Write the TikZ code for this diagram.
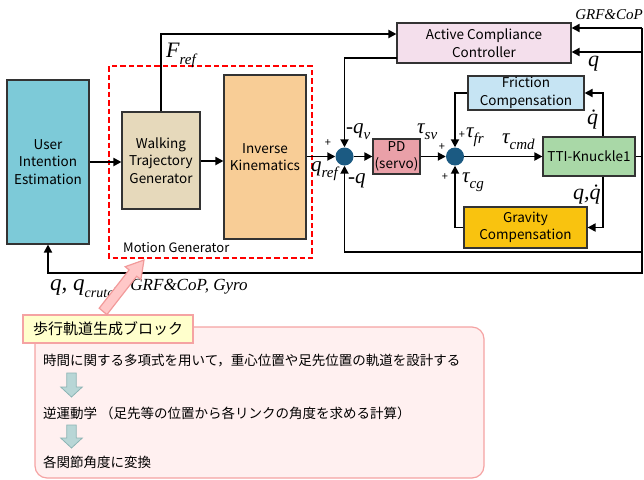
\documentclass[tikz,border=0pt]{standalone}
\usepackage{fontspec}
\newfontfamily\jp{Noto Sans CJK JP}
\newfontfamily\tms{Liberation Serif}
\usetikzlibrary{arrows.meta}

\definecolor{uiec}{HTML}{7DCAD8}
\definecolor{wtgc}{HTML}{E6D9BB}
\definecolor{ikc}{HTML}{F8CD96}
\definecolor{accc}{HTML}{F4DFEC}
\definecolor{fcc}{HTML}{C6E4F3}
\definecolor{ttic}{HTML}{A9D8A7}
\definecolor{gcc}{HTML}{F9C30F}
\definecolor{pdc}{HTML}{E9A0A8}
\definecolor{sumc}{HTML}{1B5A82}
\definecolor{noteFill}{HTML}{FFF0F0}
\definecolor{noteLine}{HTML}{F5A3A3}
\definecolor{tagFill}{HTML}{FFFFCC}
\definecolor{callFill}{HTML}{FFC8C8}
\definecolor{callLine}{HTML}{F29A9A}
\definecolor{stepFill}{HTML}{B8D6D6}
\definecolor{stepLine}{HTML}{8CB4B4}

% italic serif labels with lowered subscripts
\newcommand\mth[2][20]{{\fontsize{#1}{#1}\selectfont\tms\itshape #2}}
\newcommand\sbs[2][13]{\raisebox{-0.32em}{\fontsize{#1}{#1}\selectfont #2}}

\begin{document}
\begin{tikzpicture}[x=1pt,y=-1pt,
  blk/.style={draw=black!80, line width=1.1pt, align=center, inner sep=0pt,
    font=\jp\fontsize{13.5}{17.5}\selectfont},
  sumj/.style={circle, fill=sumc, minimum size=18pt, inner sep=0pt},
  wire/.style={line width=1.8pt},
  arr/.style={wire, -{Triangle[length=8pt,width=8pt]}},
  sgn/.style={font=\jp\fontsize{11}{11}\selectfont, inner sep=0pt},
  lab/.style={anchor=base west, inner sep=0pt},
  jtxt/.style={anchor=west, inner sep=0pt, font=\jp\fontsize{13.5}{13.5}\selectfont}]
\useasboundingbox (0,0) rectangle (644,479);

% ---- blocks ----
\node[blk, fill=uiec, minimum width=82pt, minimum height=164pt] (uie) at (48,162) {User\\Intention\\Estimation};
\node[blk, fill=wtgc, minimum width=78pt, minimum height=97pt] (wtg) at (161,160.5) {Walking\\Trajectory\\Generator};
\node[blk, fill=ikc, minimum width=82pt, minimum height=164pt] (ik) at (265,157) {Inverse\\Kinematics};
\node[blk, fill=accc, minimum width=174pt, minimum height=40pt] (acc) at (484,43) {Active Compliance\\Controller};
\node[blk, fill=fcc, minimum width=116pt, minimum height=34pt] (fc) at (526,93) {Friction\\Compensation};
\node[blk, fill=ttic, minimum width=92pt, minimum height=39pt] (tti) at (589,156.5) {TTI-Knuckle1};
\node[blk, fill=gcc, minimum width=123pt, minimum height=41pt] (gc) at (525.5,227.5) {Gravity\\Compensation};
\node[blk, fill=pdc, minimum width=47pt, minimum height=35pt] (pd) at (396.5,156.5) {PD\\(servo)};
\node[sumj] (s1) at (344.5,156.5) {};
\node[sumj] (s2) at (455,156.5) {};

% motion generator frame
\draw[red, line width=1.8pt, dash pattern=on 5.5pt off 3pt] (109,66) rectangle (312,258);
\node[anchor=base west, inner sep=0pt, font=\jp\fontsize{13}{13}\selectfont] (mgl) at (123,252) {Motion Generator};

% ---- helper points on the signal paths ----
\coordinate (rt) at (642,28);
\coordinate (rq) at (642,52);
\coordinate (rs) at (642,252);
\coordinate (rb) at (642,273);
\coordinate (fr) at (161,34);
\coordinate (ao) at (397,58);
\coordinate (ya) at (0,162);
\coordinate (yb) at (0,161);

% ---- connectors ----
\draw[arr] (uie.east |- ya) -- (wtg.west |- ya);
\draw[arr] (wtg.east |- yb) -- (ik.west |- yb);
\draw[arr] (ik.east |- s1) -- (s1.west);
\draw[arr] (s1) -- (pd.west);
\draw[arr] (pd.east) -- (s2.west);
\draw[arr] (s2) -- (tti.west);
\draw[arr] (wtg.north) -- (fr) -- (fr -| acc.west);
\draw[arr] (ao) -- (ao -| s1) -- (s1.north);
\draw[arr] ([xshift=14pt]tti.north) |- (fc.east);
\draw[arr] (fc.west) -| (s2.north);
\draw[arr] ([xshift=14pt]tti.south) |- (gc.east);
\draw[arr] (gc.west) -| (s2.south);
\draw[wire] (tti.east) -- (tti.east -| rt);
\draw[arr] (rt) -- (rt -| acc.east);
\draw[arr] (rq) -- (rq -| acc.east);
\draw[arr] (rt) -- (rb) -- (rb -| uie.south) -- (uie.south);
\draw[arr] (rs) -- (rs -| s1) -- (s1.south);

% ---- signal labels ----
\node[lab] (lfref) at (166,57) {\mth[22]{F\sbs[15]{ref}}};
\node[lab, anchor=base east] (lgrf) at (643,19) {\mth[15]{GRF\&CoP}};
\node[lab] (lq) at (588,66) {\mth[22]{q}};
\node[lab] (lqd) at (587,124) {\mth[22]{q̇}};
\node[lab] (lqqd) at (573,199) {\mth[22]{q,q̇}};
\node[lab] (ltcmd) at (502,143) {\mth[21]{τ\sbs[15]{cmd}}};
\node[lab] (ltsv) at (417,133) {\mth[21]{τ\sbs[15]{sv}}};
\node[lab] (ltfr) at (466,137) {\mth[21]{τ\sbs[15]{fr}}};
\node[lab] (ltcg) at (462,182) {\mth[21]{τ\sbs[15]{cg}}};
\node[lab] (lqv) at (346,133) {\mth[21]{-q\sbs[15]{v}}};
\node[lab] (lqref) at (311,171) {\mth[21]{q\sbs[15]{ref}}};
\node[lab] (lmq) at (348,183) {\mth[21]{-q}};
\node[sgn] (p1) at (328,143) {+};
\node[sgn] (p2) at (442,147) {+};
\node[sgn] (p3) at (445,177) {+};
\node[sgn] (p4) at (462,135) {+};
\node[lab] (lbot) at (50,290) {\mth[23]{q, q\sbs[14]{crutch},}\mth[17]{ GRF\&CoP, Gyro}};

% ---- explanatory note ----
\draw[noteLine, fill=noteFill, line width=1.2pt, rounded corners=12pt] (35,327) rectangle (484,478);
\node[draw=noteLine, fill=tagFill, line width=2pt, minimum width=170pt, minimum height=28pt,
  inner sep=0pt, font=\jp\fontsize{15}{15}\selectfont] (tag) at (108,329) {歩行軌道生成ブロック};
\node[jtxt] (t1) at (43,361) {時間に関する多項式を用いて，重心位置や足先位置の軌道を設計する};
\node[jtxt] (t2) at (43,413) {逆運動学 （足先等の位置から各リンクの角度を求める計算）};
\node[jtxt] (t3) at (43,462) {各関節角度に変換};
\draw[stepLine, fill=stepFill, line width=0.8pt]
  (66.8,373) -- (76.2,373) -- (76.2,387) -- (82.3,387) -- (71.5,397) -- (60.7,387) -- (66.8,387) -- cycle;
\draw[stepLine, fill=stepFill, line width=0.8pt]
  (66.8,425) -- (76.2,425) -- (76.2,438) -- (82.3,438) -- (71.5,448) -- (60.7,438) -- (66.8,438) -- cycle;

% callout arrow from the tag to the motion generator frame
\draw[callLine, fill=callFill, line width=1.2pt]
  (106.9,314.6) -- (136.7,276.3) -- (140.9,279.5) -- (144,260) -- (125.2,266.7) -- (129.1,269.9) -- (99.2,308.2) -- cycle;
\end{tikzpicture}
\end{document}
